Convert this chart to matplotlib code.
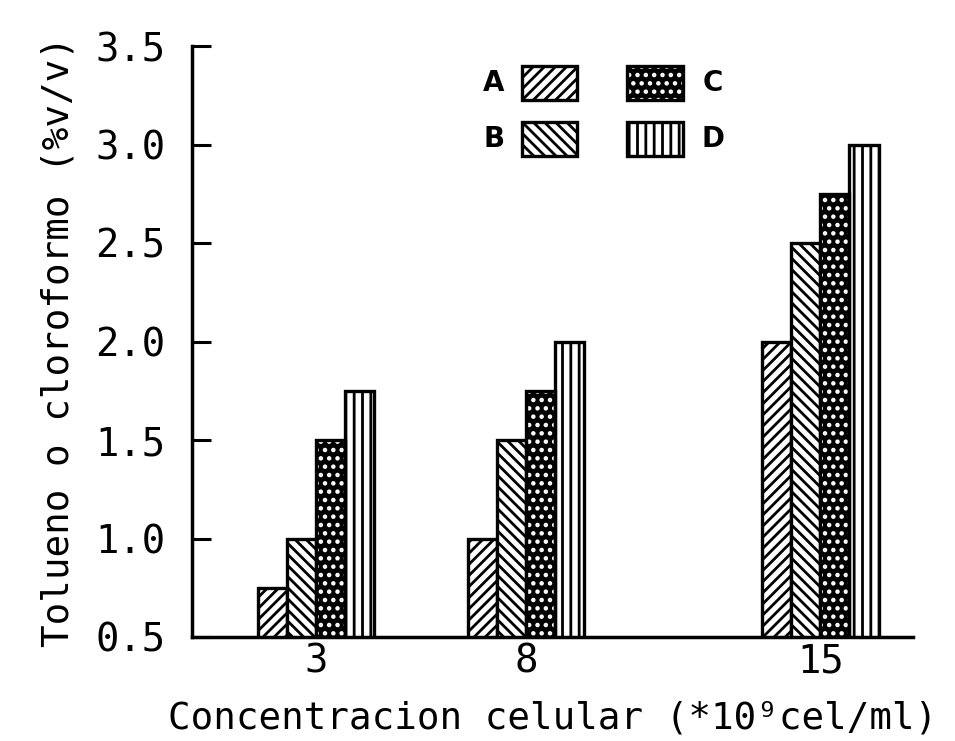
import matplotlib
matplotlib.use("Agg")
import matplotlib.pyplot as plt
from matplotlib.patches import Rectangle
import numpy as np

concentrations = [3, 8, 15]
series_names = ["A", "B", "C", "D"]
values_a = [0.75, 1.0, 2.0]
values_b = [1.0, 1.5, 2.5]
values_c = [1.5, 1.75, 2.75]
values_d = [1.75, 2.0, 3.0]
y_ticks = [0.5, 1.0, 1.5, 2.0, 2.5, 3.0, 3.5]

plt.rcParams["hatch.linewidth"] = 2.0
plt.rcParams["font.family"] = "DejaVu Sans Mono"

fig = plt.figure(figsize=(9.55, 7.41), dpi=100)
ax = fig.add_axes([192 / 955, 1 - 637 / 741, 721 / 955, 591 / 741])

w = 0.69
x = np.array(concentrations, dtype=float)
styles = {
    "A": dict(facecolor="white", hatch="///"),
    "B": dict(facecolor="white", hatch="\\\\\\"),
    "C": dict(facecolor="black", hatch=".."),
    "D": dict(facecolor="white", hatch="||"),
}

series = [values_a, values_b, values_c, values_d]
for i, (name, vals) in enumerate(zip(series_names, series)):
    pos = x + (i - 1.5) * w
    st = styles[name]
    if name == "C":
        # white dots on black: hatch in white, outline drawn on top
        ax.bar(pos, vals, width=w, facecolor="black", edgecolor="white",
               hatch=st["hatch"], linewidth=0, zorder=2)
        ax.bar(pos, vals, width=w, fill=False, edgecolor="black", linewidth=2.4, zorder=3)
    else:
        ax.bar(pos, vals, width=w, facecolor="white", edgecolor="black",
               hatch=st["hatch"], linewidth=2.4, zorder=2)

ax.set_xlim(0.06, 17.2)
ax.set_ylim(0.5, 3.5)
ax.set_yticks(y_ticks)
ax.set_yticklabels([f"{v:.1f}" for v in y_ticks])
ax.set_xticks(concentrations)
ax.set_xticklabels([str(c) for c in concentrations])

for s in ["top", "right"]:
    ax.spines[s].set_visible(False)
for s in ["left", "bottom"]:
    ax.spines[s].set_linewidth(2.5)
ax.tick_params(axis="y", direction="in", length=14, width=2.2, labelsize=28, pad=19)
ax.tick_params(axis="x", length=0, labelsize=28, pad=4)

ax.set_xlabel("Concentracion celular (*10\u2079cel/ml)", fontsize=27, labelpad=14)
ax.set_ylabel("Tolueno o cloroformo (%v/v)", fontsize=27, labelpad=14)

# legend drawn by hand (two columns, labels outside)
def px_to_ax(px, py):
    return (px - 192) / 721, (637 - py) / 591

legend_boxes = {
    "A": (522, 66, 577, 100, "left"),
    "B": (522, 122, 577, 156, "left"),
    "C": (627, 66, 683, 100, "right"),
    "D": (627, 122, 683, 156, "right"),
}
for name, (x0, y0, x1, y1, side) in legend_boxes.items():
    ax0, ay1 = px_to_ax(x0, y0)
    ax1, ay0 = px_to_ax(x1, y1)
    st = styles[name]
    if name == "C":
        ax.add_patch(Rectangle((ax0, ay0), ax1 - ax0, ay1 - ay0, transform=ax.transAxes,
                               facecolor="black", edgecolor="white", hatch=st["hatch"],
                               linewidth=0, clip_on=False))
        ax.add_patch(Rectangle((ax0, ay0), ax1 - ax0, ay1 - ay0, transform=ax.transAxes,
                               fill=False, edgecolor="black", linewidth=2.4, clip_on=False))
    else:
        ax.add_patch(Rectangle((ax0, ay0), ax1 - ax0, ay1 - ay0, transform=ax.transAxes,
                               facecolor="white", edgecolor="black", hatch=st["hatch"],
                               linewidth=2.4, clip_on=False))
    ym = (ay0 + ay1) / 2
    lx = 494 if side == "left" else 713
    ax.text(px_to_ax(lx, 0)[0], ym, name, transform=ax.transAxes, fontsize=20,
            fontweight="bold", family="DejaVu Sans", ha="center", va="center")

fig.savefig("out.png", dpi=100)
